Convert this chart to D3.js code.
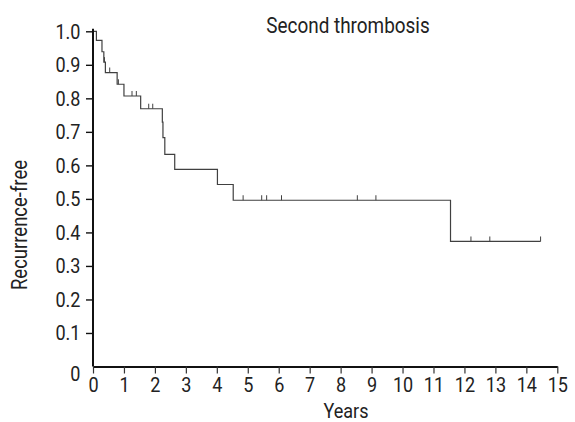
<!DOCTYPE html>
<html>
<head>
<meta charset="utf-8">
<script src="https://cdn.jsdelivr.net/npm/d3@7/dist/d3.min.js"></script>
<style>
  html, body { margin: 0; padding: 0; background: #fff; }
  svg text { font-family: Roboto, "Liberation Sans", sans-serif; fill: #222; }
</style>
</head>
<body>
<svg id="chart" width="575" height="422"></svg>
<script>
// Kaplan-Meier step data (time in years, survival after the event)
const eventTimes = [0, 0.11, 0.29, 0.35, 0.40, 0.78, 1.00, 1.54, 2.24, 2.26, 2.32, 2.64, 4.02, 4.53, 11.55];
const survival   = [1.0, 0.973, 0.939, 0.908, 0.877, 0.842, 0.807, 0.769, 0.729, 0.683, 0.633, 0.588, 0.543, 0.496, 0.373];
const endTime = 14.46;
const censorTimes = [0.37, 0.54, 0.82, 1.26, 1.40, 1.80, 1.93, 4.85, 5.45, 5.61, 6.09, 8.54, 9.14, 12.21, 12.82, 14.46];
const xTicks = d3.range(0, 16);
const yTicks = [0, 0.1, 0.2, 0.3, 0.4, 0.5, 0.6, 0.7, 0.8, 0.9, 1.0];
const yTickLabels = ["0", "0.1", "0.2", "0.3", "0.4", "0.5", "0.6", "0.7", "0.8", "0.9", "1.0"];
const title = "Second thrombosis";
const xTitle = "Years";
const yTitle = "Recurrence-free";

const SX = 0.86; // horizontal condensing to mimic a condensed face
const svg = d3.select("#chart");
const x = d3.scaleLinear().domain([0, 15]).range([93, 557.3]);
const y = d3.scaleLinear().domain([0, 1]).range([366.5, 31.3]);

function survAt(t) {
  let s = survival[0];
  for (let i = 0; i < eventTimes.length; i++) if (eventTimes[i] <= t) s = survival[i];
  return s;
}

const pts = eventTimes.map((t, i) => [t, survival[i]]);
pts.push([endTime, survival[survival.length - 1]]);
const line = d3.line().x(d => x(d[0])).y(d => y(d[1])).curve(d3.curveStepAfter);
svg.append("path").attr("d", line(pts))
  .attr("fill", "none").attr("stroke", "#404040").attr("stroke-width", 1.2);

svg.append("g").selectAll("line").data(censorTimes).join("line")
  .attr("x1", d => x(d)).attr("x2", d => x(d))
  .attr("y1", d => y(survAt(d))).attr("y2", d => y(survAt(d)) - 5)
  .attr("stroke", "#404040").attr("stroke-width", 1);

// x axis
const xAxis = d3.axisBottom(x).tickValues(xTicks).tickSize(7).tickSizeOuter(0).tickPadding(4);
const gx = svg.append("g").attr("transform", `translate(0,${y(0)})`).call(xAxis);
gx.select(".domain").attr("stroke", "#111").attr("stroke-width", 1.8);
gx.selectAll(".tick line").attr("stroke", "#333").attr("stroke-width", 1.2);
gx.selectAll(".tick text").attr("font-size", 21).attr("fill", "#222")
  .attr("transform", `scale(${SX},1)`);

// y axis
const yAxis = d3.axisLeft(y).tickValues(yTicks).tickFormat((d, i) => yTickLabels[i]).tickSize(7).tickSizeOuter(0).tickPadding(5);
const gy = svg.append("g").attr("transform", `translate(${x(0)},0)`).call(yAxis);
gy.select(".domain").attr("stroke", "#111").attr("stroke-width", 2)
  .attr("d", `M0,${y(0)}V${y(1) - 2.5}`);
gy.selectAll(".tick line").attr("stroke", "#111").attr("stroke-width", 1.4)
  .attr("display", d => d === 0 ? "none" : null);
gy.selectAll(".tick text").attr("font-size", 21).attr("fill", "#222")
  .attr("x", -12.5 / SX)
  .attr("transform", d => d === 0 ? `translate(0,7) scale(${SX},1)` : `scale(${SX},1)`);

// titles
svg.append("text").attr("transform", `translate(348,33) scale(${SX},1)`).attr("text-anchor", "middle")
  .attr("font-size", 22).text(title);
svg.append("text").attr("transform", `translate(346,418) scale(${SX},1)`).attr("text-anchor", "middle")
  .attr("font-size", 21).text(xTitle);
svg.append("text").attr("transform", `translate(27,225) rotate(-90) scale(${SX},1)`).attr("text-anchor", "middle")
  .attr("font-size", 21.5).text(yTitle);
</script>
</body>
</html>
